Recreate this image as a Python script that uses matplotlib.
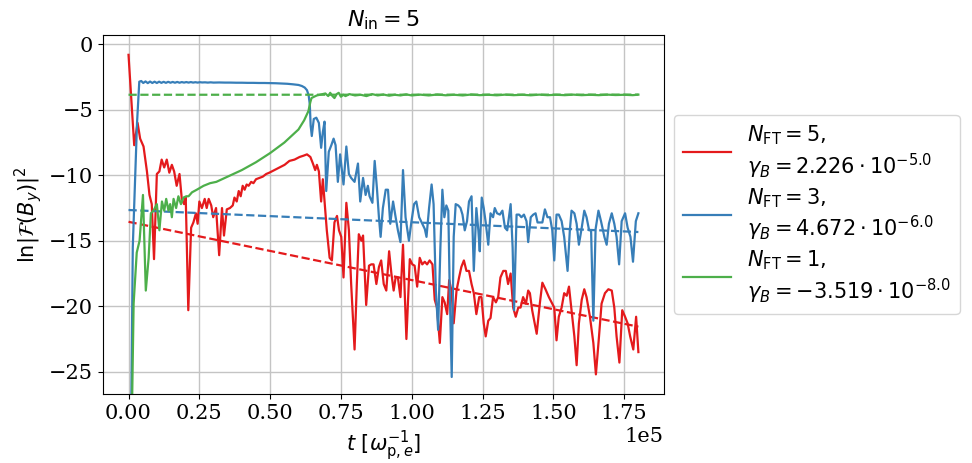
import numpy as np
import matplotlib
matplotlib.use("Agg")
import matplotlib.pyplot as plt

plt.rcParams['font.family'] = 'serif'
plt.rcParams['font.serif'] = ['DejaVu Serif']
plt.rcParams['mathtext.fontset'] = 'dejavusans'
plt.rcParams['font.size'] = 15

# ---- data (t in units of 1e5 omega_pe^-1) ----
t_red = [0.000, 0.020, 0.032, 0.041, 0.053, 0.065, 0.074, 0.082, 0.090, 0.100, 0.109, 0.117, 0.126, 0.135,
         0.144, 0.153, 0.161, 0.170, 0.180, 0.188, 0.196, 0.202, 0.211, 0.221, 0.229, 0.238, 0.244, 0.250,
         0.259, 0.269, 0.276, 0.283, 0.292, 0.299, 0.309, 0.320, 0.330, 0.337, 0.347, 0.358, 0.368, 0.374,
         0.382, 0.389, 0.396, 0.403, 0.410, 0.417, 0.424, 0.433, 0.441, 0.450, 0.462, 0.474, 0.486, 0.497,
         0.515, 0.533, 0.551, 0.568, 0.586, 0.604, 0.618, 0.630, 0.642, 0.651, 0.659, 0.665, 0.672, 0.680,
         0.686, 0.692, 0.700, 0.710, 0.718, 0.727, 0.736, 0.743, 0.751, 0.759, 0.769, 0.778, 0.786, 0.798,
         0.806, 0.813, 0.822, 0.828, 0.839, 0.849, 0.857, 0.865, 0.875, 0.884, 0.892, 0.901, 0.910, 0.920,
         0.928, 0.936, 0.943, 0.951, 0.960, 0.969, 0.981, 0.993, 1.002, 1.010, 1.019, 1.028, 1.037, 1.046,
         1.054, 1.063, 1.073, 1.081, 1.089, 1.099, 1.108, 1.116, 1.125, 1.132, 1.140, 1.148, 1.158, 1.167,
         1.175, 1.184, 1.193, 1.202, 1.211, 1.219, 1.228, 1.238, 1.246, 1.254, 1.261, 1.270, 1.278, 1.287,
         1.297, 1.305, 1.313, 1.323, 1.332, 1.340, 1.349, 1.358, 1.367, 1.376, 1.384, 1.393, 1.403, 1.411,
         1.417, 1.425, 1.441, 1.452, 1.461, 1.472, 1.484, 1.496, 1.503, 1.511, 1.519, 1.529, 1.538, 1.547,
         1.555, 1.564, 1.574, 1.582, 1.590, 1.600, 1.609, 1.617, 1.629, 1.641, 1.650, 1.661, 1.670, 1.682,
         1.694, 1.706, 1.715, 1.723, 1.733, 1.743, 1.753, 1.762, 1.771, 1.782, 1.792, 1.800]
v_red = [-0.8, -7.7, -6.0, -7.2, -7.8, -9.7, -11.5, -12.2, -16.4, -9.9, -9.7, -8.8, -9.4, -8.8,
         -9.8, -9.2, -9.7, -10.8, -9.9, -11.8, -12.2, -11.7, -20.3, -14.0, -13.6, -12.9, -13.7, -12.0,
         -12.5, -11.8, -12.5, -11.8, -12.3, -13.2, -12.5, -16.1, -12.5, -14.6, -12.6, -12.5, -12.3, -11.7,
         -12.0, -11.2, -11.6, -10.8, -11.1, -10.7, -10.8, -10.5, -10.6, -10.3, -10.2, -10.1, -9.9, -9.8,
         -9.6, -9.4, -9.2, -8.9, -8.8, -8.6, -8.5, -8.4, -8.6, -9.1, -9.6, -9.2, -9.7, -12.0,
         -10.3, -12.0, -14.2, -16.3, -16.5, -13.6, -13.1, -14.2, -14.7, -17.8, -12.1, -14.2, -18.3, -23.3,
         -18.3, -14.5, -15.0, -14.6, -19.9, -16.9, -16.8, -16.8, -18.3, -17.0, -16.5, -18.3, -18.8, -15.8,
         -17.5, -18.8, -17.8, -17.8, -19.3, -15.3, -22.5, -16.4, -16.8, -16.9, -18.5, -16.3, -16.8, -16.6,
         -16.8, -16.5, -16.8, -19.5, -20.1, -22.8, -19.3, -19.7, -20.6, -18.0, -18.8, -21.3, -18.8, -17.8,
         -17.0, -16.5, -17.3, -17.3, -18.3, -19.0, -20.6, -19.3, -19.3, -21.3, -22.3, -21.1, -20.9, -19.3,
         -19.7, -19.3, -17.8, -17.3, -17.3, -18.3, -17.5, -20.1, -20.8, -20.1, -20.1, -19.3, -19.8, -18.8,
         -19.0, -20.3, -22.1, -19.8, -18.2, -18.7, -19.3, -19.8, -20.1, -22.6, -20.8, -20.1, -19.0, -19.2,
         -18.5, -20.3, -22.3, -24.5, -21.3, -19.5, -18.7, -19.3, -20.8, -22.8, -25.2, -22.3, -19.8, -19.0,
         -18.7, -18.8, -20.1, -22.3, -24.3, -20.3, -20.8, -21.3, -22.3, -23.3, -20.8, -23.5]

t_blue = [0.000, 0.015, 0.030, 0.038, 0.045, 0.052, 0.060, 0.068, 0.076, 0.084, 0.092, 0.100, 0.108, 0.116,
          0.124, 0.132, 0.140, 0.148, 0.156, 0.164, 0.172, 0.180, 0.188, 0.196, 0.204, 0.212, 0.220, 0.228,
          0.236, 0.244, 0.252, 0.260, 0.270, 0.280, 0.290, 0.300, 0.320, 0.340, 0.360, 0.380, 0.400, 0.420,
          0.440, 0.460, 0.480, 0.500, 0.520, 0.540, 0.560, 0.580, 0.600, 0.612, 0.622, 0.630, 0.636, 0.640,
          0.643, 0.647, 0.654, 0.663, 0.672, 0.680, 0.686, 0.692, 0.698, 0.707, 0.716, 0.724, 0.731, 0.739,
          0.747, 0.759, 0.769, 0.778, 0.786, 0.798, 0.810, 0.818, 0.828, 0.837, 0.845, 0.851, 0.861, 0.869,
          0.877, 0.884, 0.890, 0.898, 0.908, 0.916, 0.924, 0.934, 0.943, 0.951, 0.960, 0.969, 0.978, 0.990,
          0.999, 1.008, 1.016, 1.026, 1.037, 1.046, 1.052, 1.061, 1.070, 1.077, 1.085, 1.093, 1.101, 1.108,
          1.115, 1.122, 1.129, 1.134, 1.141, 1.148, 1.155, 1.164, 1.172, 1.179, 1.187, 1.195, 1.202, 1.211,
          1.219, 1.228, 1.235, 1.240, 1.247, 1.254, 1.261, 1.270, 1.278, 1.287, 1.293, 1.301, 1.311, 1.320,
          1.329, 1.337, 1.349, 1.356, 1.361, 1.370, 1.379, 1.387, 1.396, 1.405, 1.411, 1.420, 1.429, 1.437,
          1.444, 1.452, 1.461, 1.470, 1.479, 1.488, 1.496, 1.503, 1.511, 1.519, 1.529, 1.538, 1.550, 1.558,
          1.564, 1.574, 1.582, 1.590, 1.600, 1.609, 1.617, 1.626, 1.633, 1.641, 1.649, 1.659, 1.668, 1.680,
          1.688, 1.696, 1.706, 1.715, 1.723, 1.732, 1.741, 1.753, 1.762, 1.772, 1.781, 1.791, 1.800]
v_blue = [-50.0, -15.5, -6.0, -2.85, -2.80, -2.95, -2.83, -2.96, -2.84, -2.95, -2.85, -2.95, -2.85, -2.94,
          -2.86, -2.94, -2.86, -2.93, -2.87, -2.93, -2.87, -2.93, -2.88, -2.92, -2.88, -2.92, -2.88, -2.92,
          -2.89, -2.92, -2.89, -2.91, -2.90, -2.92, -2.90, -2.92, -2.91, -2.92, -2.92, -2.93, -2.93, -2.94,
          -2.94, -2.95, -2.95, -2.96, -2.97, -2.99, -3.01, -3.05, -3.10, -3.18, -3.30, -3.50, -3.90, -4.60,
          -6.2, -7.0, -5.7, -5.6, -6.0, -7.9, -6.7, -5.9, -11.2, -8.2, -7.7, -7.2, -7.7, -10.5,
          -8.4, -10.7, -7.8, -9.9, -10.2, -10.5, -9.1, -12.0, -10.2, -11.5, -10.8, -11.6, -12.1, -8.9,
          -11.0, -13.2, -14.7, -12.5, -11.1, -11.1, -13.7, -12.0, -13.2, -14.2, -15.1, -9.6, -13.2, -15.0,
          -13.5, -12.2, -12.0, -13.2, -13.7, -14.1, -14.7, -12.5, -10.7, -12.2, -18.8, -21.8, -15.5, -11.1,
          -13.2, -12.3, -12.7, -18.8, -25.4, -14.7, -12.2, -12.3, -12.5, -13.0, -14.2, -13.5, -12.0, -11.6,
          -17.3, -12.5, -14.2, -15.8, -11.7, -12.5, -13.6, -15.3, -12.9, -13.2, -12.5, -12.9, -13.0, -12.7,
          -14.0, -14.2, -12.2, -15.5, -20.3, -13.0, -13.0, -13.2, -13.0, -13.5, -15.1, -13.2, -13.0, -12.9,
          -13.6, -13.6, -13.6, -12.6, -13.2, -13.2, -14.2, -16.5, -13.0, -13.0, -13.5, -14.7, -17.3, -14.2,
          -12.7, -12.9, -13.7, -15.3, -14.0, -12.7, -13.2, -14.2, -14.2, -21.1, -14.1, -12.7, -13.5, -14.7,
          -15.3, -13.7, -12.9, -13.7, -14.7, -16.8, -13.5, -12.9, -14.0, -14.7, -16.6, -13.5, -12.9]

t_green = [0.000, 0.018, 0.029, 0.039, 0.051, 0.061, 0.071, 0.079, 0.088, 0.100, 0.109, 0.118, 0.126, 0.133,
           0.141, 0.147, 0.153, 0.159, 0.168, 0.176, 0.185, 0.194, 0.204, 0.212, 0.224, 0.241, 0.265, 0.288,
           0.310, 0.350, 0.400, 0.450, 0.500, 0.550, 0.600, 0.620, 0.635, 0.642, 0.646, 0.655, 0.665, 0.675,
           0.685, 0.695, 0.705, 0.712, 0.720, 0.727, 0.735, 0.742, 0.750, 0.758, 0.766, 0.780, 0.800, 0.820,
           0.840, 0.860, 0.880, 0.900, 0.920, 0.940, 0.960, 0.980, 1.000, 1.030, 1.060, 1.090, 1.120, 1.150,
           1.180, 1.210, 1.240, 1.270, 1.300, 1.330, 1.360, 1.390, 1.420, 1.450, 1.480, 1.510, 1.540, 1.570,
           1.600, 1.630, 1.660, 1.690, 1.720, 1.750, 1.780, 1.800]
v_green = [-45.0, -19.8, -15.9, -15.0, -11.5, -18.8, -16.3, -12.9, -12.7, -12.2, -14.2, -12.0, -12.7, -11.8,
           -12.7, -12.2, -13.2, -11.8, -12.5, -11.6, -12.2, -11.7, -11.6, -11.6, -11.3, -11.1, -10.8, -10.6,
           -10.5, -10.1, -9.6, -9.0, -8.3, -7.5, -6.5, -5.8, -5.1, -4.4, -4.1, -4.0, -3.9, -3.85,
           -3.80, -3.75, -3.95, -3.70, -3.95, -4.10, -3.80, -3.70, -4.00, -3.85, -3.95, -3.80, -3.90, -3.85,
           -3.95, -3.80, -3.90, -3.83, -3.92, -3.85, -3.90, -3.82, -3.90, -3.84, -3.90, -3.83, -3.89, -3.85,
           -3.90, -3.83, -3.88, -3.85, -3.89, -3.84, -3.88, -3.85, -3.89, -3.84, -3.88, -3.85, -3.88, -3.84,
           -3.88, -3.85, -3.88, -3.84, -3.87, -3.85, -3.88, -3.84]

# fitted exponential-growth lines (endpoints)
t_fit = [0.0, 1.8]
fit_red = [-13.55, -21.56]
fit_blue = [-12.65, -14.33]
fit_green = [-3.85, -3.84]

labels = [r"$N_{\rm FT}=5,$" "\n" r"$\gamma_B=2.226\cdot10^{-5.0}$",
          r"$N_{\rm FT}=3,$" "\n" r"$\gamma_B=4.672\cdot10^{-6.0}$",
          r"$N_{\rm FT}=1,$" "\n" r"$\gamma_B=-3.519\cdot10^{-8.0}$"]
colors = ["#e41a1c", "#377eb8", "#4daf4a"]

fig = plt.figure(figsize=(9.72, 4.63), dpi=100)
ax = fig.add_axes([0.106, 0.149, 0.577, 0.775])

series = [(t_red, v_red, fit_red), (t_blue, v_blue, fit_blue), (t_green, v_green, fit_green)]
for (tt, vv, ff), c, lab in zip(series, colors, labels):
    ax.plot(np.array(tt) * 1e5, vv, color=c, lw=1.6, label=lab)
    ax.plot(np.array(t_fit) * 1e5, ff, color=c, lw=1.6, ls="--")

ax.set_xlim(-0.09e5, 1.89e5)
ax.set_ylim(-26.7, 0.7)
ax.set_yticks([0, -5, -10, -15, -20, -25])
ax.grid(True, color="#c4c4c4", lw=1.0)
ax.ticklabel_format(axis="x", style="sci", scilimits=(0, 0))
ax.set_title(r"$N_{\rm in}=5$", fontsize=16)
ax.set_xlabel(r"$t\ [\omega_{{\rm p},e}^{-1}]$")
ax.set_ylabel(r"$\ln|\mathcal{F}(B_y)|^2$")
ax.legend(loc="center left", bbox_to_anchor=(1.0, 0.5), handlelength=2.3, labelspacing=0.25)

fig.savefig("out.png", dpi=100)
